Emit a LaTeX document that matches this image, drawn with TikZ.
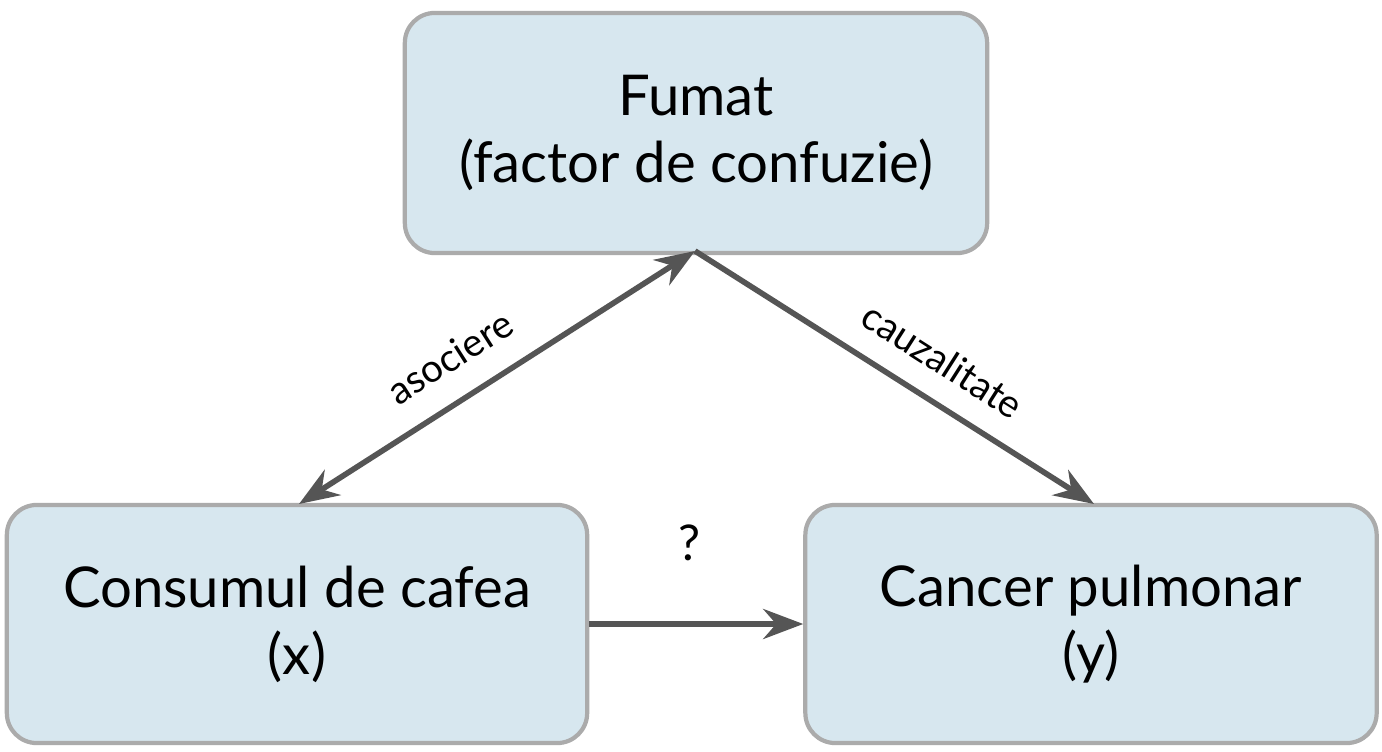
\documentclass[tikz,border=0pt]{standalone}
\usepackage{fontspec}
\setmainfont{Lato}
\usetikzlibrary{arrows.meta}
\definecolor{boxfill}{HTML}{D7E7EF}
\definecolor{boxline}{HTML}{ABABAB}
\definecolor{arr}{HTML}{555555}
\tikzset{
  box/.style={draw=boxline, line width=1.2pt, fill=boxfill, rounded corners=0.3cm, align=center, font=\fontsize{16}{19}\selectfont, inner sep=0pt},
  conn/.style={draw=arr, line width=1.6pt, -{Stealth[length=0.4cm,width=0.3cm]}},
  lbl/.style={font=\fontsize{11}{13}\selectfont}
}
\begin{document}
\begin{tikzpicture}[x=0.01cm,y=-0.01cm]
\useasboundingbox (0,0) rectangle (1382,752);
\node[box, minimum width=5.82cm, minimum height=2.40cm] (f) at (696,133) {Fumat\\(factor de confuzie)};
\node[box, minimum width=5.80cm, minimum height=2.38cm] (c) at (297,624) {Consumul de cafea\\(x)};
\node[box, minimum width=5.71cm, minimum height=2.38cm] (p) at (1091,624) {Cancer pulmonar\\(y)};
\coordinate (ft) at (695,251);
\coordinate (ct) at (299,504);
\coordinate (pt) at (1094,504);
\draw[conn, {Stealth[length=0.4cm,width=0.3cm]}-{Stealth[length=0.4cm,width=0.3cm]}] (ct) -- (ft);
\draw[conn] (ft) -- (pt);
\draw[conn] (c.east) -- (p.west);
\node[lbl, rotate=32.5] at (450,357) {asociere};
\node[lbl, rotate=-32.5] at (943,360) {cauzalitate};
\node[font=\fontsize{14}{16}\selectfont] at (690,543) {?};
\end{tikzpicture}
\end{document}
